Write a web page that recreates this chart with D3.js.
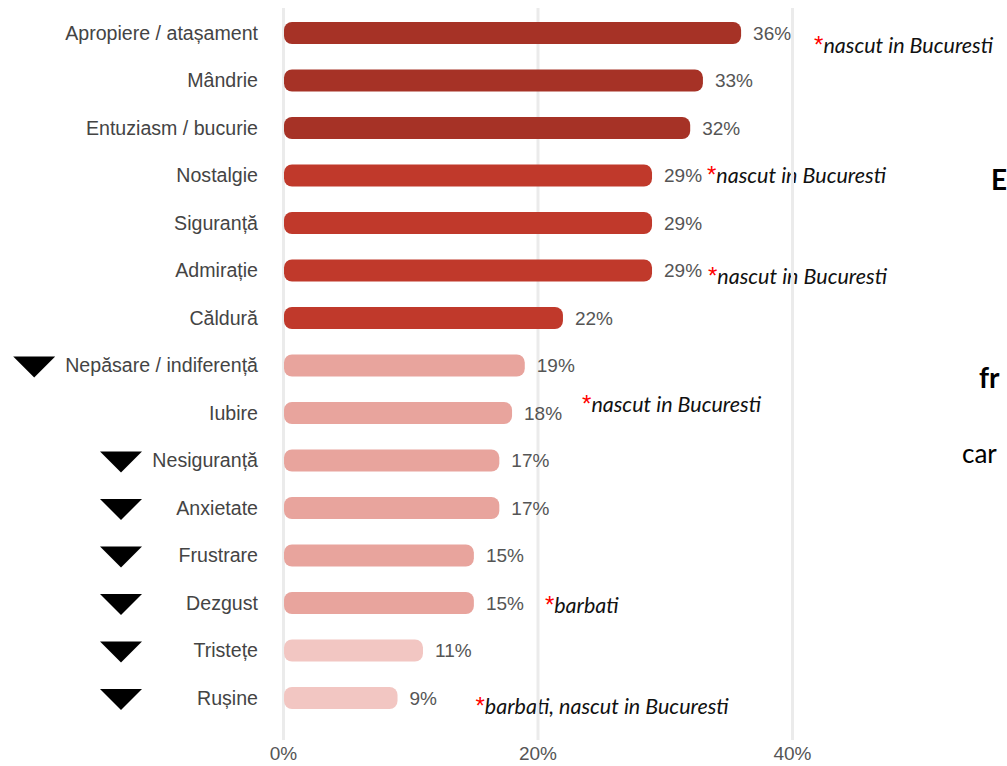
<!DOCTYPE html>
<html>
<head>
<meta charset="utf-8">
<title>Emotii</title>
<style>
	body { margin: 0; background: #fff; }
	svg { display: block; }
	.cat { font: 19.6px "Liberation Sans", Arial, sans-serif; fill: #444; }
	.val { font: 19px "Liberation Sans", Arial, sans-serif; fill: #555; }
	.axis text { font: 19px "Liberation Sans", Arial, sans-serif; fill: #555; }
	.axis path { display: none; }
	.axis line { stroke: #ebebeb; stroke-width: 3; }
	.note { font: italic 21.5px Lato, "Open Sans", sans-serif; fill: #111; }
	.star { font: 24px "Liberation Sans", sans-serif; fill: #ff0000; }
	.side { font-family: Lato, "Open Sans", sans-serif; fill: #000; }
</style>
<script src="https://cdnjs.cloudflare.com/ajax/libs/d3/7.8.5/d3.min.js"></script>
</head>
<body>
<script>
	var categories = ["Apropiere / atașament", "Mândrie", "Entuziasm / bucurie", "Nostalgie", "Siguranță",
		"Admirație", "Căldură", "Nepăsare / indiferență", "Iubire", "Nesiguranță", "Anxietate",
		"Frustrare", "Dezgust", "Tristețe", "Rușine"];
	var values = [36, 33, 32, 29, 29, 29, 22, 19, 18, 17, 17, 15, 15, 11, 9];
	var tiers = [0, 0, 0, 1, 1, 1, 1, 2, 2, 2, 2, 2, 2, 3, 3];
	var decreased = ["Nepăsare / indiferență", "Nesiguranță", "Anxietate", "Frustrare", "Dezgust", "Tristețe", "Rușine"];
	var noteCats = ["Apropiere / atașament", "Nostalgie", "Admirație", "Iubire", "Dezgust", "Rușine"];
	var noteTexts = ["nascut in Bucuresti", "nascut in Bucuresti", "nascut in Bucuresti", "nascut in Bucuresti",
		"barbati", "barbati, nascut in Bucuresti"];
	var xTicks = [0, 20, 40];
	var sideWords = ["E", "fr", "car"];

	var tierColors = ["#a63226", "#c0392b", "#e8a49d", "#f2c6c2"];
	// note placement relative to the end of its bar
	var noteOffsets = [[73, 13], [55, 0], [56, 6], [70, -8], [71, 3], [78, 9]];

	var W = 1007, H = 766;
	var svg = d3.select("body").append("svg").attr("width", W).attr("height", H);

	var x = d3.scaleLinear().domain([0, 40]).range([283, 792]);
	var y = d3.scaleBand().domain(categories).range([9.25, 721.75]);
	var barH = 22;
	var cy = function(c) { return y(c) + y.bandwidth() / 2; };

	// annotations (sit under the grid lines, as in the source)
	var notes = svg.append("g");
	noteCats.forEach(function(c, i) {
		var v = values[categories.indexOf(c)];
		var t = notes.append("text").attr("class", "note")
			.attr("x", x(v) + noteOffsets[i][0])
			.attr("y", cy(c) + noteOffsets[i][1] + 7);
		t.append("tspan").attr("class", "star").text("*");
		t.append("tspan").text(noteTexts[i]);
	});

	// grid + axis
	svg.append("g").attr("class", "axis")
		.attr("transform", "translate(0,740)")
		.call(d3.axisBottom(x).tickValues(xTicks).tickSize(-732).tickPadding(7)
			.tickFormat(function(d) { return d + "%"; }));

	// bars
	svg.append("g").selectAll("rect")
		.data(categories)
		.join("rect")
		.attr("x", x(0) + 1)
		.attr("y", function(c) { return cy(c) - barH / 2; })
		.attr("width", function(c, i) { return x(values[i]) - x(0) - 1; })
		.attr("height", barH)
		.attr("rx", 8)
		.attr("fill", function(c, i) { return tierColors[tiers[i]]; });

	svg.append("g").selectAll("text")
		.data(categories)
		.join("text")
		.attr("class", "val")
		.attr("x", function(c, i) { return x(values[i]) + 12; })
		.attr("y", cy)
		.attr("dy", "0.35em")
		.text(function(c, i) { return values[i] + "%"; });

	var labels = svg.append("g").selectAll("text")
		.data(categories)
		.join("text")
		.attr("class", "cat")
		.attr("x", 258)
		.attr("y", cy)
		.attr("dy", "0.35em")
		.attr("text-anchor", "end")
		.text(function(c) { return c; });

	// decrease markers
	labels.filter(function(c) { return decreased.indexOf(c) >= 0; }).each(function(c) {
		var bx = this.getBBox().x;
		var mx = Math.min(121, bx - 31), my = cy(c);
		svg.append("path")
			.attr("d", "M" + (mx - 21) + "," + (my - 9) + "L" + (mx + 21) + "," + (my - 9) + "L" + mx + "," + (my + 12) + "Z")
			.attr("fill", "#000");
	});

	// words of the neighbouring text block, cut off by the right edge
	var sidePos = [[991, 190, 28, "bold"], [979, 388, 28, "bold"], [962, 463, 26, "normal"]];
	sideWords.forEach(function(w, i) {
		svg.append("text").attr("class", "side")
			.attr("x", sidePos[i][0]).attr("y", sidePos[i][1])
			.style("font-size", sidePos[i][2] + "px")
			.style("font-weight", sidePos[i][3])
			.text(w);
	});
</script>
</body>
</html>
